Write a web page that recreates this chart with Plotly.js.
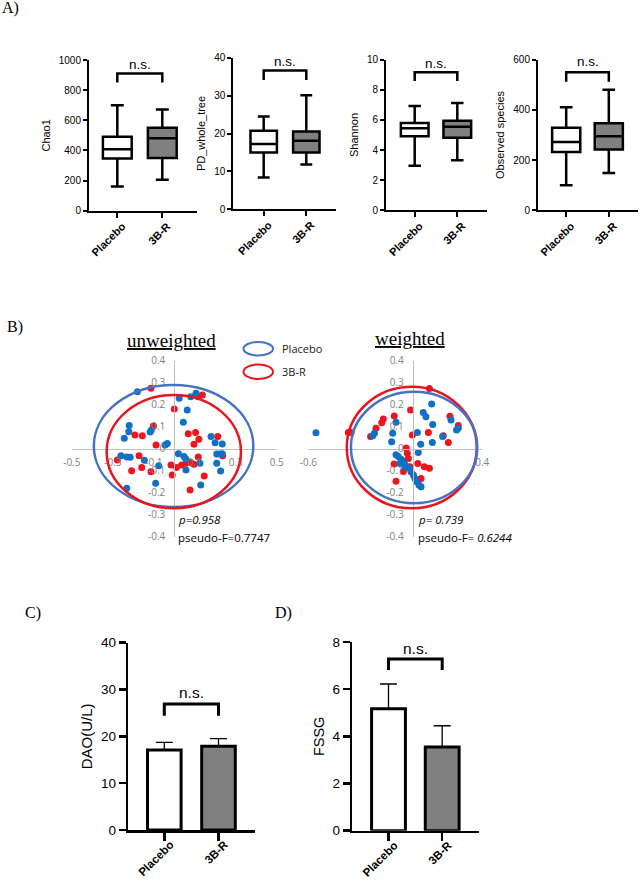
<!DOCTYPE html>
<html><head><meta charset="utf-8">
<script src="https://cdn.plot.ly/plotly-3.0.1.min.js"></script>
<style>html,body{margin:0;padding:0;background:#fff}#chart{width:640px;height:882px}</style>
</head><body><div id="chart"></div>
<script>
// ---------------- DATA ----------------
const groups = ['Placebo', '3B-R'];
// Panel A box stats: [lower whisker, Q1, median, Q3, upper whisker]
const chao1Placebo = [161, 347, 407, 491, 699];
const chao1Rb      = [206, 350, 480, 551, 672];
const pdPlacebo    = [8.4, 15.0, 17.2, 20.7, 24.5];
const pdRb         = [11.8, 15.0, 18.1, 20.5, 30.1];
const shanPlacebo  = [2.96, 4.91, 5.44, 5.80, 6.92];
const shanRb       = [3.32, 4.82, 5.55, 5.95, 7.12];
const obsPlacebo   = [100, 232, 272, 329, 411];
const obsRb        = [149, 242, 295, 347, 480];
const boxTitles = ['Chao1', 'PD_whole_tree', 'Shannon', 'Observed species'];
// n.s. bracket: [leg bottom, bracket top, label]
const nsChao1 = [850, 910, 973];
const nsPd    = [34.1, 36.6, 38.9];
const nsShan  = [8.58, 9.16, 9.76];
const nsObs   = [512, 550, 593];

// Panel B PCoA
const uwPlaceboX = [-0.18,-0.22,-0.222,-0.244,-0.112,-0.118,-0.045,-0.034,-0.26,-0.232,-0.215,-0.146,-0.076,-0.091,-0.232,0.024,0.08,0.106,0.063,0.044,0.179,0.199,0.234,0.02,0.047,0.057,0.057,0.125,0.207,0.223,0.234,0.207,0.226,0.129];
const uwPlaceboY = [0.259,0.105,0.077,0.047,0.085,0.076,0.017,0.024,-0.032,-0.038,-0.039,-0.053,-0.077,-0.157,-0.18,0.229,0.236,0.252,0.176,0.12,0.055,0.027,0.021,-0.023,-0.036,-0.048,-0.097,-0.066,-0.024,-0.024,-0.023,-0.066,-0.101,-0.165];
const uwRbX = [-0.114,0.0,-0.192,-0.156,-0.102,-0.089,-0.278,-0.172,-0.159,-0.208,-0.114,-0.016,-0.01,0.137,0.117,0.068,0.104,0.12,0.096,0.212,0.236,0.117,0.08,0.057,0.036,0.011,0.096,0.146,0.077];
const uwRbY = [0.275,0.18,0.062,0.059,0.103,0.017,-0.051,-0.032,-0.086,-0.1,-0.105,-0.074,-0.12,0.244,0.236,0.068,0.074,0.043,0.02,0.055,-0.032,-0.038,-0.064,-0.066,-0.074,-0.086,-0.071,-0.124,-0.188];
const wPlaceboX = [-0.556,-0.22,-0.23,-0.096,-0.115,-0.121,0.109,0.061,0.076,0.115,0.027,0.113,0.046,0.032,0.172,0.22,0.252,0.262,-0.096,-0.083,-0.067,-0.054,-0.073,-0.044,-0.063,-0.048,-0.034,-0.021,-0.01,0.004,0.013,0.023,0.036,0.048];
const wPlaceboY = [0.073,0.07,0.059,0.12,0.07,0.032,0.203,0.165,0.145,0.11,0.074,0.028,0.02,-0.017,0.055,0.13,0.085,0.093,-0.027,-0.036,-0.048,-0.059,-0.067,-0.082,-0.052,-0.067,-0.082,-0.089,-0.105,-0.12,-0.135,-0.15,-0.165,-0.173];
const wRbX = [-0.37,-0.354,-0.242,-0.211,-0.178,-0.169,-0.106,-0.012,0.096,0.214,0.262,0.176,0.205,0.09,-0.002,-0.037,-0.031,-0.025,-0.107,-0.054,-0.096,-0.016,0.029,0.067,0.096,0.048];
const wRbY = [0.074,0.074,0.055,0.093,0.118,0.135,0.149,0.176,0.274,0.148,0.105,0.059,0.028,0.074,0.062,0.003,-0.021,-0.044,-0.07,-0.104,-0.148,-0.082,-0.067,-0.082,-0.089,-0.135];
// ellipses: [cx, cy, rx, ry]
const uwEllPlacebo = [-0.0035, 0.0125, 0.389, 0.2775];
const uwEllRb      = [-0.0025, -0.0135, 0.3275, 0.2575];
const wEllPlacebo  = [0.008, 0.0055, 0.363, 0.2535];
const wEllRb       = [-0.0055, 0.0055, 0.3735, 0.2765];
const uwXTicks = [-0.5, -0.3, -0.1, 0.1, 0.3, 0.5];
const wXTicks  = [-0.6, 0.4];
const pcoaYTicks = [-0.4, -0.3, -0.2, -0.1, 0, 0.1, 0.2, 0.3, 0.4];
const uwStats = ['p=0.958', 'pseudo-F=0.7747'];
const wStats  = ['p= 0.739', 'pseudo-F= ', '0.6244'];

// Panels C, D: mean and SEM
const daoMean = [17.1, 17.9];
const daoSem  = [1.6, 1.6];
const fssgMean = [5.17, 3.55];
const fssgSem  = [1.05, 0.90];
const nsDao  = [24.4, 26.9, 29.3];
const nsFssg = [6.81, 7.28, 7.73];

// ---------------- LAYOUT HELPERS ----------------
const W = 640, H = 882;
const fx = p => p / W, fy = p => 1 - p / H;
const SANS = 'Liberation Sans', SERIF = 'Liberation Serif', CAL = 'Open Sans';
const traces = [], shapes = [], annotations = [];
const layout = {
  width: W, height: H, margin: {l: 0, r: 0, t: 0, b: 0},
  paper_bgcolor: '#fff', plot_bgcolor: 'rgba(0,0,0,0)', showlegend: false,
  font: {family: SANS, color: '#000'}
};
const axName = n => (n === 1 ? '' : String(n));

function addNs(n, ns, lw, fs) {
  const a = axName(n);
  shapes.push({type: 'path', xref: 'x' + a, yref: 'y' + a,
    path: `M0,${ns[0]} L0,${ns[1]} L1,${ns[1]} L1,${ns[0]}`,
    line: {color: '#000', width: lw}});
  annotations.push({xref: 'x' + a, yref: 'y' + a, x: 0.5, y: ns[2], text: 'n.s.', xanchor: 'center',
    showarrow: false, yanchor: 'middle', font: {family: SANS, size: fs, color: '#000'}});
}

// ---------------- PANEL A ----------------
const boxPanels = [
  {stats: [chao1Placebo, chao1Rb], yr: [0, 1000], dtick: 200, xpx: [89, 197], ypx: [60, 210.7], c0: 117.3, unit: 45, bw: 0.64, ns: nsChao1},
  {stats: [pdPlacebo, pdRb], yr: [0, 40], dtick: 10, xpx: [233.3, 336], ypx: [57.7, 209.3], c0: 263.7, unit: 42.6, bw: 0.62, ns: nsPd},
  {stats: [shanPlacebo, shanRb], yr: [0, 10], dtick: 2, xpx: [386, 486.7], ypx: [59.7, 210.3], c0: 414.7, unit: 42.6, bw: 0.65, ns: nsShan},
  {stats: [obsPlacebo, obsRb], yr: [0, 600], dtick: 200, xpx: [538, 638], ypx: [59.7, 210.3], c0: 566.2, unit: 42.6, bw: 0.66, ns: nsObs}
];
const boxFills = ['#ffffff', '#808080'];
boxPanels.forEach((p, i) => {
  const n = i + 1, a = axName(n);
  p.stats.forEach((s, g) => {
    traces.push({type: 'box', x: [g], lowerfence: [s[0]], q1: [s[1]], median: [s[2]], q3: [s[3]], upperfence: [s[4]],
      fillcolor: boxFills[g], line: {color: '#000', width: 2.5}, width: p.bw, whiskerwidth: 0.45,
      boxpoints: false, xaxis: 'x' + a, yaxis: 'y' + a, hoverinfo: 'skip'});
  });
  layout['xaxis' + a] = {domain: [fx(p.xpx[0]), fx(p.xpx[1])], anchor: 'y' + a,
    range: [(p.xpx[0] - p.c0) / p.unit, (p.xpx[1] - p.c0) / p.unit],
    tickvals: [0, 1], ticktext: groups, tickangle: -45,
    tickfont: {family: SANS, size: 11, weight: 'bold', color: '#000'},
    ticklabelshift: 5, ticklabelstandoff: -2,
    showline: true, linecolor: '#000', linewidth: 2, ticks: 'outside', ticklen: 5, tickwidth: 2, tickcolor: '#000',
    showgrid: false, zeroline: false};
  layout['yaxis' + a] = {domain: [fy(p.ypx[1]), fy(p.ypx[0])], anchor: 'x' + a,
    range: p.yr, dtick: p.dtick, tick0: 0,
    tickfont: {family: SANS, size: 10, color: '#000'},
    showline: true, linecolor: '#000', linewidth: 2, ticks: 'outside', ticklen: 4, tickwidth: 2, tickcolor: '#000',
    showgrid: false, zeroline: false,
    title: {text: boxTitles[i], font: {family: SANS, size: 11, color: '#000'}, standoff: 6}};
  addNs(n, p.ns, 2.5, 13.5);
});

// ---------------- PANEL B ----------------
const BLUE_PT = '#1070C4', RED_PT = '#F0141E', BLUE_EL = '#4472C4', RED_EL = '#E8141E';
const pcoaY = [fy(536.7), fy(360.7)];
function pcoaAxes(n, xpx, xr, xticks, zeroPx) {
  const a = axName(n);
  layout['xaxis' + a] = {domain: [fx(xpx[0]), fx(xpx[1])], range: xr, anchor: 'free', position: fy(448.7),
    showline: true, linecolor: '#BFBFBF', linewidth: 1, ticks: '', tickvals: xticks, ticktext: xticks.map(String),
    tickfont: {family: CAL, size: 10, color: '#7F7F7F'}, ticklabelstandoff: 4, showgrid: false, zeroline: false};
  layout['yaxis' + a] = {domain: pcoaY, range: [-0.4, 0.4], anchor: 'free', position: fx(zeroPx),
    showline: true, linecolor: '#BFBFBF', linewidth: 1, ticks: '', tickvals: pcoaYTicks, ticktext: pcoaYTicks.map(String),
    tickfont: {family: CAL, size: 10, color: '#7F7F7F'}, ticklabelstandoff: 7, showgrid: false, zeroline: false};
}
pcoaAxes(5, [71.8, 276.8], [-0.5, 0.5], uwXTicks, 174.3);
pcoaAxes(6, [308.3, 482.3], [-0.6, 0.4], wXTicks, 412.7);
function pts(x, y, color, n) {
  traces.push({type: 'scatter', mode: 'markers', x: x, y: y, xaxis: 'x' + n, yaxis: 'y' + n,
    marker: {size: 7, color: color}, hoverinfo: 'skip', cliponaxis: false});
}
pts(uwRbX, uwRbY, RED_PT, 5);
pts(uwPlaceboX, uwPlaceboY, BLUE_PT, 5);
pts(wRbX, wRbY, RED_PT, 6);
pts(wPlaceboX, wPlaceboY, BLUE_PT, 6);
function ell(e, n, color) {
  shapes.push({type: 'circle', xref: 'x' + n, yref: 'y' + n, x0: e[0] - e[2], x1: e[0] + e[2], y0: e[1] - e[3], y1: e[1] + e[3],
    line: {color: color, width: 2.5}, layer: 'above'});
}
ell(uwEllPlacebo, 5, BLUE_EL); ell(uwEllRb, 5, RED_EL);
ell(wEllRb, 6, RED_EL); ell(wEllPlacebo, 6, BLUE_EL);
// legend
shapes.push({type: 'circle', xref: 'paper', yref: 'paper', x0: fx(243.5), x1: fx(273), y0: fy(355.5), y1: fy(342), line: {color: BLUE_EL, width: 2}});
shapes.push({type: 'circle', xref: 'paper', yref: 'paper', x0: fx(243.5), x1: fx(273), y0: fy(379), y1: fy(364.5), line: {color: RED_EL, width: 2}});
annotations.push({xref: 'paper', yref: 'paper', x: fx(280), y: fy(348.5), xanchor: 'left', yanchor: 'middle', text: groups[0], showarrow: false, font: {family: CAL, size: 11, color: '#222'}});
annotations.push({xref: 'paper', yref: 'paper', x: fx(280), y: fy(371.7), xanchor: 'left', yanchor: 'middle', text: groups[1], showarrow: false, font: {family: CAL, size: 11, color: '#222'}});
// titles
annotations.push({xref: 'paper', yref: 'paper', x: fx(171), y: fy(340), xanchor: 'center', yanchor: 'middle', text: '<u>unweighted</u>', showarrow: false, font: {family: SERIF, size: 19, color: '#000'}});
annotations.push({xref: 'paper', yref: 'paper', x: fx(410), y: fy(338.5), xanchor: 'center', yanchor: 'middle', text: '<u>weighted</u>', showarrow: false, font: {family: SERIF, size: 19, color: '#000'}});
// stats
const statFont = {family: CAL, size: 11.5, color: '#000'};
annotations.push({xref: 'paper', yref: 'paper', x: fx(176), y: fy(519), xanchor: 'left', yanchor: 'middle', text: '<i>' + uwStats[0] + '</i>', showarrow: false, font: statFont});
annotations.push({xref: 'paper', yref: 'paper', x: fx(176), y: fy(537), xanchor: 'left', yanchor: 'middle', text: uwStats[1], showarrow: false, font: statFont});
annotations.push({xref: 'paper', yref: 'paper', x: fx(416), y: fy(519), xanchor: 'left', yanchor: 'middle', text: '<i>' + wStats[0] + '</i>', showarrow: false, font: statFont});
annotations.push({xref: 'paper', yref: 'paper', x: fx(416), y: fy(537), xanchor: 'left', yanchor: 'middle', text: wStats[1] + '<i>' + wStats[2] + '</i>', showarrow: false, font: statFont});

// ---------------- PANELS C, D ----------------
const barPanels = [
  {mean: daoMean, sem: daoSem, title: 'DAO(U/L)', yr: [0, 40], dtick: 10, xpx: [128.3, 255], ypx: [642.7, 830], c0: 164.3, unit: 54.2, bw: 0.62, ns: nsDao, n: 7, tfs: 15},
  {mean: fssgMean, sem: fssgSem, title: 'FSSG', yr: [0, 8], dtick: 2, xpx: [352.3, 479.3], ypx: [642, 830.7], c0: 388.5, unit: 53.7, bw: 0.63, ns: nsFssg, n: 8, tfs: 14.5}
];
barPanels.forEach(p => {
  const a = axName(p.n);
  traces.push({type: 'bar', x: [0, 1], y: p.mean, width: p.bw, xaxis: 'x' + a, yaxis: 'y' + a,
    marker: {color: boxFills, line: {color: '#000', width: 3}},
    error_y: {type: 'data', symmetric: false, array: p.sem, arrayminus: [0, 0], color: '#000', thickness: 1.3, width: 8.5},
    hoverinfo: 'skip'});
  layout['xaxis' + a] = {domain: [fx(p.xpx[0]), fx(p.xpx[1])], anchor: 'y' + a,
    range: [(p.xpx[0] - p.c0) / p.unit, (p.xpx[1] - p.c0) / p.unit],
    tickvals: [0, 1], ticktext: groups, tickangle: -45,
    tickfont: {family: SANS, size: 11.5, weight: 'bold', color: '#000'},
    ticklabelshift: 6, ticklabelstandoff: -7,
    showline: true, linecolor: '#000', linewidth: 2.5, ticks: 'outside', ticklen: 8, tickwidth: 2.5, tickcolor: '#000',
    showgrid: false, zeroline: false};
  layout['yaxis' + a] = {domain: [fy(p.ypx[1]), fy(p.ypx[0])], anchor: 'x' + a,
    range: p.yr, dtick: p.dtick, tick0: 0,
    tickfont: {family: SANS, size: 13.5, color: '#000'},
    showline: true, linecolor: '#000', linewidth: 2.5, ticks: 'outside', ticklen: 7, tickwidth: 2.5, tickcolor: '#000',
    showgrid: false, zeroline: false,
    title: {text: p.title, font: {family: SANS, size: p.tfs, color: '#000'}, standoff: 5}};
  addNs(p.n, p.ns, 3, 15.5);
});

// panel letters
[['A)', 0, 8], ['B)', 5, 327], ['C)', 23, 613], ['D)', 273, 613]].forEach(l => {
  annotations.push({xref: 'paper', yref: 'paper', x: fx(l[1]), y: fy(l[2]), xanchor: 'left', yanchor: 'middle',
    text: l[0], showarrow: false, font: {family: SERIF, size: 16, color: '#000'}});
});

layout.shapes = shapes;
layout.annotations = annotations;
Plotly.newPlot('chart', traces, layout, {staticPlot: true, displayModeBar: false});
</script>
</body></html>
